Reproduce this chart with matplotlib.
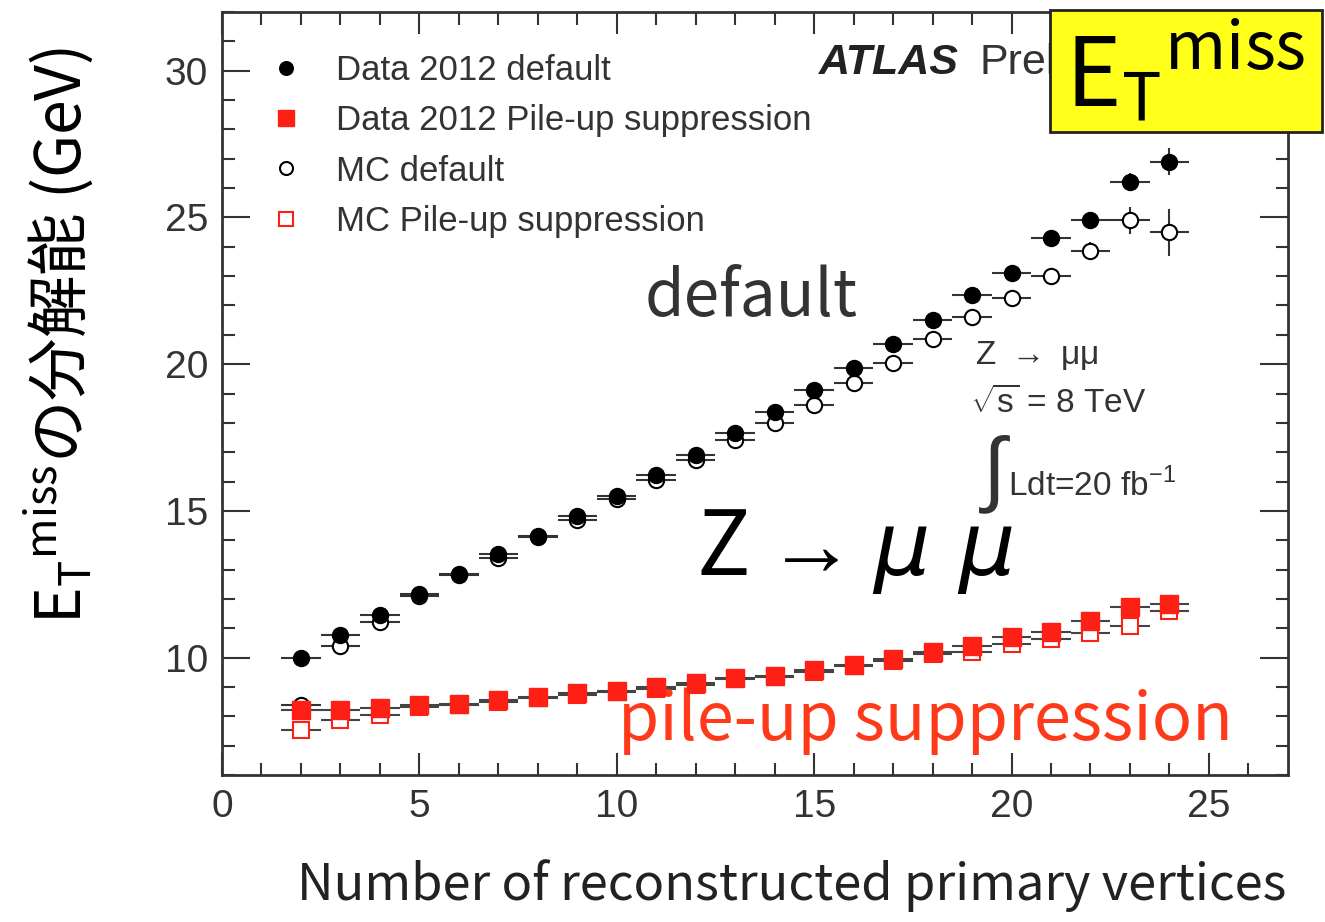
import matplotlib.pyplot as plt
import numpy as np
from matplotlib.patches import Rectangle

plt.rcParams['font.family'] = ['Liberation Sans', 'Noto Sans CJK JP', 'DejaVu Sans']
plt.rcParams['mathtext.fontset'] = 'custom'
plt.rcParams['mathtext.rm'] = 'Liberation Sans'
plt.rcParams['mathtext.it'] = 'DejaVu Sans:italic'

nvtx = np.arange(2, 25)

data_default = [10.0, 10.77, 11.46, 12.18, 12.86, 13.54, 14.15, 14.83, 15.51, 16.22,
                16.9, 17.65, 18.37, 19.12, 19.86, 20.7, 21.5, 22.35, 23.1, 24.3,
                24.9, 26.2, 26.9]
data_default_err = [0.05, 0.05, 0.05, 0.05, 0.05, 0.05, 0.05, 0.05, 0.05, 0.05,
                    0.05, 0.06, 0.07, 0.08, 0.1, 0.1, 0.12, 0.14, 0.16, 0.2,
                    0.25, 0.3, 0.45]
mc_default = [8.4, 10.4, 11.2, 12.1, 12.8, 13.4, 14.1, 14.7, 15.4, 16.05,
              16.75, 17.4, 18.0, 18.6, 19.35, 20.05, 20.85, 21.6, 22.25, 23.0,
              23.85, 24.9, 24.5]
mc_default_err = [0.1, 0.1, 0.1, 0.1, 0.1, 0.1, 0.1, 0.1, 0.1, 0.1,
                  0.1, 0.1, 0.1, 0.1, 0.12, 0.14, 0.16, 0.2, 0.2, 0.25,
                  0.3, 0.45, 0.8]
data_pu = [8.2, 8.22, 8.28, 8.4, 8.42, 8.54, 8.67, 8.78, 8.88, 8.99,
           9.13, 9.31, 9.39, 9.58, 9.76, 9.95, 10.18, 10.41, 10.71, 10.87,
           11.26, 11.72, 11.84]
data_pu_err = [0.05] * 20 + [0.08, 0.1, 0.12]
mc_pu = [7.52, 7.88, 8.03, 8.33, 8.38, 8.48, 8.62, 8.74, 8.84, 8.94,
         9.08, 9.26, 9.34, 9.52, 9.7, 9.9, 10.12, 10.2, 10.45, 10.65,
         10.85, 11.08, 11.58]
mc_pu_err = [0.1] * 20 + [0.15, 0.2, 0.3]

red = '#ff2015'
jp = ['Noto Sans CJK JP', 'DejaVu Sans']

fig = plt.figure(figsize=(13.25, 9.22), dpi=100)
ax = fig.add_axes([0.1675, 0.1594, 0.8045, 0.8276])

ax.errorbar(nvtx, mc_default, yerr=mc_default_err, xerr=0.5, fmt='o', ms=11,
            mfc='white', mec='black', mew=1.5, ecolor='#333333', elinewidth=1.5,
            label='MC default', zorder=3)
ax.errorbar(nvtx, data_default, yerr=data_default_err, xerr=0.5, fmt='o', ms=11.5,
            color='black', ecolor='#333333', elinewidth=1.5,
            label='Data 2012 default', zorder=4)
ax.errorbar(nvtx, mc_pu, yerr=mc_pu_err, xerr=0.5, fmt='s', ms=12,
            mfc='white', mec=red, mew=1.5, ecolor='#444444', elinewidth=1.5,
            label='MC Pile-up suppression', zorder=3)
ax.errorbar(nvtx, data_pu, yerr=data_pu_err, xerr=0.5, fmt='s', ms=13,
            color=red, ecolor='#444444', elinewidth=1.5,
            label='Data 2012 Pile-up suppression', zorder=4)

ax.set_xlim(0, 27)
ax.set_ylim(6, 32)
ax.set_xticks(np.arange(0, 26, 5))
ax.set_yticks(np.arange(10, 31, 5))
ax.set_xticks(np.arange(0, 27, 1), minor=True)
ax.set_yticks(np.arange(6, 33, 1), minor=True)
ax.tick_params(axis='both', which='both', direction='in', top=True, right=True,
               width=1.5, colors='#333333', labelcolor='#333333')
ax.tick_params(axis='x', which='major', length=16, labelsize=28, pad=10)
ax.tick_params(axis='y', which='major', length=20, labelsize=28, pad=10)
ax.tick_params(axis='both', which='minor', length=9)
for s in ax.spines.values():
    s.set_linewidth(2)
    s.set_color('#333333')

handles, labels = ax.get_legend_handles_labels()
order = [1, 3, 0, 2]
leg = ax.legend([handles[i][0] for i in order], [labels[i] for i in order],
                loc='upper left', bbox_to_anchor=(0.006, 0.986), frameon=False,
                fontsize=25, handlelength=1.5, handletextpad=0.7,
                labelspacing=0.5, markerscale=0.85)
for t in leg.get_texts():
    t.set_color('#333333')

ax.text(0.56, 0.933, 'ATLAS', transform=ax.transAxes, fontsize=31, va='center',
        fontweight='bold', fontstyle='italic', color='#222222')
ax.text(0.711, 0.933, 'Preliminary', transform=ax.transAxes, fontsize=31,
        va='center', color='#333333')

ax.text(0.706, 0.55, r'Z $\rightarrow$ $\mathregular{\mu\mu}$', transform=ax.transAxes,
        fontsize=24, va='center', color='#333333')
ax.text(0.702, 0.4875, r'$\sqrt{\mathregular{s}}$ = 8 TeV', transform=ax.transAxes,
        fontsize=24, va='center', color='#333333')
ax.text(0.71, 0.393, r'$\int$', transform=ax.transAxes, fontsize=60,
        va='center', color='#333333')
ax.text(0.737, 0.38, r'Ldt=20 fb$^{-1}$', transform=ax.transAxes, fontsize=24,
        va='center', color='#333333')

ax.text(0.397, 0.625, 'default', transform=ax.transAxes, fontsize=46,
        va='center', color='#333333', family=jp)
ax.text(0.445, 0.295, r'Z$\rightarrow$$\mu\ \mu$', transform=ax.transAxes,
        fontsize=64, va='center', color='black', family=jp)
ax.text(0.372, 0.07, 'pile-up suppression', transform=ax.transAxes, fontsize=48,
        va='center', color='#ff3a1a', family=jp)

fig.text(0.971, 0.04, 'Number of reconstructed primary vertices', fontsize=36.5,
         ha='right', va='center', color='#222222', family=jp)
fig.text(0.044, 0.636, r'E$_\mathregular{T}$$^\mathregular{miss}$の分解能 (GeV)',
         rotation=90, fontsize=45, ha='center', va='center', color='black', family=jp)

fig.patches.append(Rectangle((0.7925, 0.8568), 0.2053, 0.1323, transform=fig.transFigure,
                             facecolor='#ffff1a', edgecolor='#222222', linewidth=2, zorder=10))
fig.text(0.804, 0.885, r'E$_\mathregular{T}$$^\mathregular{miss}$', fontsize=68,
         ha='left', va='baseline', color='black', zorder=11, family=jp)

fig.savefig('out.png', dpi=100)
